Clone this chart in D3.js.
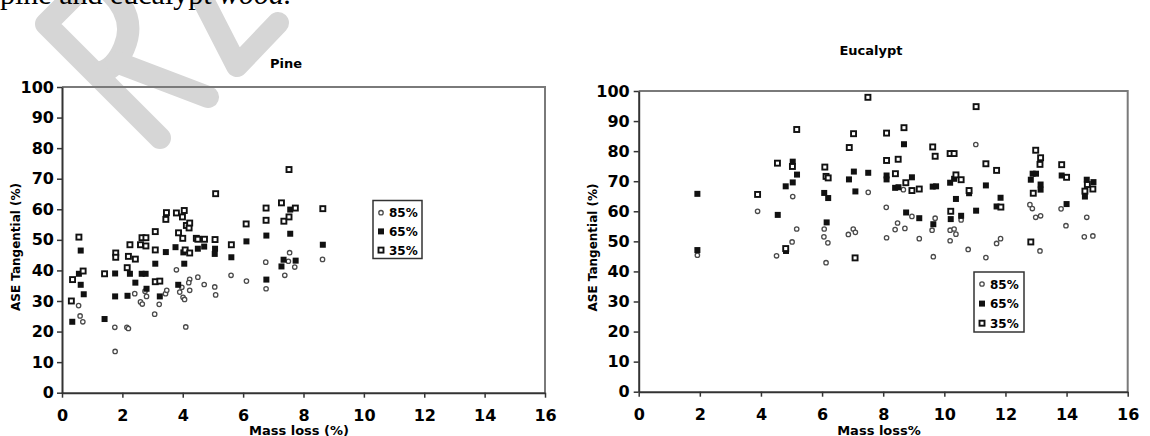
<!DOCTYPE html>
<html>
<head>
<meta charset="utf-8">
<script src="https://cdn.jsdelivr.net/npm/d3@7"></script>
<style>
	body {margin:0; background:#fff;}
	svg text {font-family:"DejaVu Sans", sans-serif; font-weight:bold; fill:#000;}
	svg text.serif {font-family:"Liberation Serif", serif; font-weight:normal;}
</style>
</head>
<body>
<svg id="fig" width="1150" height="436"></svg>
<script>
"use strict";

// tick values and series names
var x_ticks = [0, 2, 4, 6, 8, 10, 12, 14, 16];
var y_ticks = [0, 10, 20, 30, 40, 50, 60, 70, 80, 90, 100];
var series_names = ["85%", "65%", "35%"];

// Pine: [mass loss %, ASE tangential %]
var pine_85 = [[0.55,28.5],[0.6,25.1],[0.69,23.2],[1.75,21.4],[1.76,13.5],[2.15,21.4],[2.2,21],[2.41,32.4],
	[2.6,29.7],[2.66,29],[2.8,31.5],[2.75,33.2],[3.07,25.7],[3.22,28.9],[3.43,32.4],[3.47,33.5],[3.79,40.2],
	[3.9,32.9],[3.97,34.5],[4.01,31.2],[4.06,30.5],[4.1,21.5],[4.23,37.1],[4.2,36],[4.23,33.5],[4.5,37.8],
	[4.71,35.4],[5.06,34.6],[5.09,32],[5.6,38.4],[6.11,36.5],[6.75,42.7],[6.76,34],[7.38,38.4],[7.54,45.8],
	[7.5,43],[7.71,41.1],[8.63,43.6]];
var pine_65 = [[0.34,23.2],[0.56,38.9],[0.62,35.3],[0.72,32.2],[0.62,46.5],[1.41,24.1],[1.76,39],[1.76,31.5],
	[2.17,31.7],[2.25,38.9],[2.43,36],[2.64,38.9],[2.77,38.9],[2.8,34],[3.09,42.2],[3.24,31.5],[3.44,46],
	[3.76,47.6],[3.85,35.3],[4.02,45.9],[4.05,42.2],[4.5,47.1],[4.71,47.8],[5.07,47.1],[5.06,45.4],[5.61,44.3],
	[6.11,49.5],[6.77,51.4],[6.77,37],[7.27,41.3],[7.34,43.5],[7.56,52],[7.56,59.9],[7.74,43.2],[8.64,48.4]];
var pine_35 = [[0.31,30],[0.35,37],[0.56,50.9],[0.7,39.8],[1.41,38.9],[1.78,45.7],[1.78,44.3],[2.16,40.9],
	[2.2,44.6],[2.25,48.4],[2.43,43.7],[2.6,48.4],[2.65,50.7],[2.78,50.7],[2.78,48],[3.09,52.7],[3.09,46.7],
	[3.09,36.3],[3.24,36.5],[3.44,56.7],[3.46,58.9],[3.79,58.8],[3.86,52.3],[3.99,57.5],[4.0,50.5],[4.05,59.6],
	[4.08,46.7],[4.12,54.7],[4.21,53.9],[4.23,55.5],[4.23,45.7],[4.45,50.5],[4.5,50.2],[4.72,50.2],[5.07,50.1],
	[5.09,65.1],[5.61,48.4],[6.1,55.2],[6.76,60.4],[6.76,56.4],[7.27,62.1],[7.35,56.1],[7.52,73],[7.52,57.5],
	[7.73,60.4],[8.64,60.2]];

// Eucalypt
var euc_85 = [[1.92,45.4],[3.89,60],[4.51,45.2],[5.02,49.8],[5.04,64.9],[5.17,54.1],[6.06,51.5],[6.07,54.1],
	[6.13,42.9],[6.19,49.5],[6.86,52.3],[7.02,54.1],[7.09,53],[7.51,66.3],[8.1,61.3],[8.11,51.2],[8.39,53.9],
	[8.47,56.1],[8.66,67.2],[8.71,54.3],[8.94,58.3],[9.18,50.9],[9.64,44.9],[9.6,53.7],[9.7,57.7],[10.19,50.2],
	[10.19,53.7],[10.32,54.1],[10.38,52.4],[10.55,57.1],[10.78,47.3],[11.03,82.2],[11.36,44.6],[11.71,49.3],
	[11.84,50.9],[12.8,62.2],[12.88,60.9],[12.99,58],[13.15,58.5],[13.13,46.8],[13.82,60.8],[13.98,55.2],
	[14.66,58],[14.58,51.5],[14.86,51.8]];
var euc_65 = [[1.92,47.1],[1.92,65.8],[4.55,58.8],[4.81,68.3],[4.82,46.8],[5.04,76.5],[5.04,69.6],[5.18,72.2],
	[6.07,66.1],[6.2,64.4],[6.15,56.3],[6.88,70.6],[7.04,73.2],[7.09,66.6],[7.51,72.8],[8.11,71.9],[8.11,70.6],
	[8.68,82.3],[8.94,71.3],[8.39,67.8],[8.5,68],[8.75,59.6],[9.18,57.7],[9.62,68.2],[9.73,68.3],[9.64,55.7],
	[10.32,70.8],[10.19,69.5],[10.81,66],[10.38,64.1],[10.21,57.4],[10.55,58.5],[11.04,60.2],[11.36,68.6],
	[11.84,64.5],[11.71,61.6],[12.89,72.5],[13.0,72.5],[12.83,70.5],[13.15,68.9],[13.15,67.2],[13.84,71.9],
	[14.0,62.4],[14.66,70.5],[14.88,69.7],[14.6,64.9]];
var euc_35 = [[3.89,65.6],[4.54,76],[4.81,47.6],[5.03,74.9],[5.17,87.2],[6.09,74.7],[6.13,71.6],[6.2,71.1],
	[6.89,81.2],[7.03,85.8],[7.08,44.5],[7.5,97.9],[8.11,86],[8.68,87.8],[8.11,76.9],[8.49,77.3],[8.4,72.5],
	[8.74,69.5],[8.94,66.9],[9.18,67.4],[9.62,81.4],[9.7,78.3],[10.19,79.2],[10.32,79.2],[10.38,72.1],
	[10.55,70.5],[10.81,66.9],[10.21,60],[11.04,94.8],[11.36,75.8],[11.71,73.6],[11.85,61.4],[12.83,49.8],
	[12.99,80.3],[13.15,77.8],[13.13,75.6],[12.91,66],[13.84,75.5],[14.0,71.3],[14.68,68.9],[14.86,67.4],
	[14.6,66.7]];

var svg = d3.select("#fig");

/////////////////////////////////////////////
// page background: caption line cut at the top and the grey watermark
svg.append("g").attr("class", "watermark")
	.selectAll("path")
	.data(["M160,138 L46,24 L80,-10",
		"M106,-12 Q138,16 124,48 Q114,72 96,73",
		"M116,62 L208,97",
		"M198,-10 L237,66 L278,23"])
	.join("path")
	.attr("d", function(d){return d;})
	.attr("fill", "none")
	.attr("stroke", "#d6d6d6")
	.attr("stroke-width", 22)
	.attr("stroke-linecap", "round")
	.attr("stroke-linejoin", "round");

var caption = svg.append("text").attr("class", "serif")
	.attr("x", 0).attr("y", 4)
	.style("font-size", "30px");
caption.append("tspan").text("pine and eucalypt ");
caption.append("tspan").style("font-style", "italic").text("wood.");

/////////////////////////////////////////////
// one scatter panel
function draw_panel(p){
	var x = d3.scaleLinear().domain([0, 16]).range([p.left, p.right]);
	var y = d3.scaleLinear().domain([0, 100]).range([p.bottom, p.top]);
	var g = svg.append("g");

	// top and right frame
	g.append("path")
		.attr("d", "M" + p.left + "," + p.top + "H" + p.right + "V" + p.bottom)
		.attr("fill", "none").attr("stroke", "#7a7a7a").attr("stroke-width", 2);

	var ax_y = g.append("g")
		.attr("transform", "translate(" + p.left + ",0)")
		.call(d3.axisLeft(y).tickValues(y_ticks).tickSize(5).tickSizeOuter(0).tickPadding(p.yPad));
	var ax_x = g.append("g")
		.attr("transform", "translate(0," + p.bottom + ")")
		.call(d3.axisBottom(x).tickValues(x_ticks).tickSize(5).tickSizeOuter(0).tickPadding(12));

	[ax_y, ax_x].forEach(function(ax){
		ax.select(".domain").attr("stroke", "#333").attr("stroke-width", 2);
		ax.selectAll(".tick line").attr("stroke", "#333").attr("stroke-width", 1.5);
		ax.selectAll(".tick text").attr("fill", "#000")
			.style("font-family", "'DejaVu Sans', sans-serif")
			.style("font-weight", "bold").style("font-size", "16px");
	});

	// 85% circles, 65% filled squares, 35% open squares
	g.append("g").selectAll("circle").data(p.data[0]).join("circle")
		.attr("cx", function(d){return x(d[0]);})
		.attr("cy", function(d){return y(d[1]);})
		.attr("r", 2.2)
		.attr("fill", "#fff").attr("stroke", "#4a4a4a").attr("stroke-width", 1.3);
	g.append("g").selectAll("rect").data(p.data[1]).join("rect")
		.attr("x", function(d){return x(d[0]) - 3;})
		.attr("y", function(d){return y(d[1]) - 3;})
		.attr("width", 6).attr("height", 6)
		.attr("fill", "#111");
	g.append("g").selectAll("rect").data(p.data[2]).join("rect")
		.attr("x", function(d){return x(d[0]) - 2.5;})
		.attr("y", function(d){return y(d[1]) - 2.5;})
		.attr("width", 5).attr("height", 5)
		.attr("fill", "#fff").attr("stroke", "#111").attr("stroke-width", 1.9);

	// titles
	g.append("text").attr("x", p.titleX).attr("y", p.titleY)
		.attr("text-anchor", "middle").style("font-size", "13px").text(p.title);
	g.append("text").attr("x", p.xLabelX).attr("y", p.xLabelY)
		.attr("text-anchor", "middle").style("font-size", "13px").text(p.xLabel);
	g.append("text")
		.attr("transform", "translate(" + p.yLabelX + "," + p.yLabelY + ") rotate(-90)")
		.attr("text-anchor", "middle").style("font-size", "12px").text("ASE Tangential (%)");

	// legend
	var lg = g.append("g").attr("transform", "translate(" + p.legend.x + "," + p.legend.y + ")");
	lg.append("rect").attr("width", p.legend.w).attr("height", p.legend.h)
		.attr("fill", "#fff").attr("stroke", "#333").attr("stroke-width", 1.5);
	var row = lg.selectAll("g.row").data(series_names).join("g").attr("class", "row")
		.attr("transform", function(d, i){return "translate(0," + (p.legend.first + i * p.legend.step) + ")";});
	row.each(function(d, i){
		var r = d3.select(this);
		if (i == 0) {
			r.append("circle").attr("cx", 8).attr("r", 2.2)
				.attr("fill", "#fff").attr("stroke", "#4a4a4a").attr("stroke-width", 1.3);
		} else if (i == 1) {
			r.append("rect").attr("x", 5).attr("y", -3).attr("width", 6).attr("height", 6).attr("fill", "#111");
		} else {
			r.append("rect").attr("x", 5.5).attr("y", -2.5).attr("width", 5).attr("height", 5)
				.attr("fill", "#fff").attr("stroke", "#111").attr("stroke-width", 1.9);
		}
		r.append("text").attr("x", 16).attr("y", 4.5).style("font-size", "12px").text(d);
	});
}

draw_panel({
	title: "Pine", xLabel: "Mass loss (%)",
	left: 62, right: 545, top: 87, bottom: 392.7, yPad: 3,
	titleX: 286, titleY: 68, xLabelX: 299, xLabelY: 435, yLabelX: 20, yLabelY: 247,
	legend: {x: 373, y: 200.5, w: 49, h: 58, first: 12.2, step: 18.7},
	data: [pine_85, pine_65, pine_35]
});

draw_panel({
	title: "Eucalypt", xLabel: "Mass loss%",
	left: 638.7, right: 1127.7, top: 91, bottom: 391.7, yPad: 4,
	titleX: 871, titleY: 55, xLabelX: 879, xLabelY: 434.5, yLabelX: 597, yLabelY: 247.5,
	legend: {x: 974, y: 272, w: 50, h: 60, first: 12, step: 19.6},
	data: [euc_85, euc_65, euc_35]
});
</script>
</body>
</html>
